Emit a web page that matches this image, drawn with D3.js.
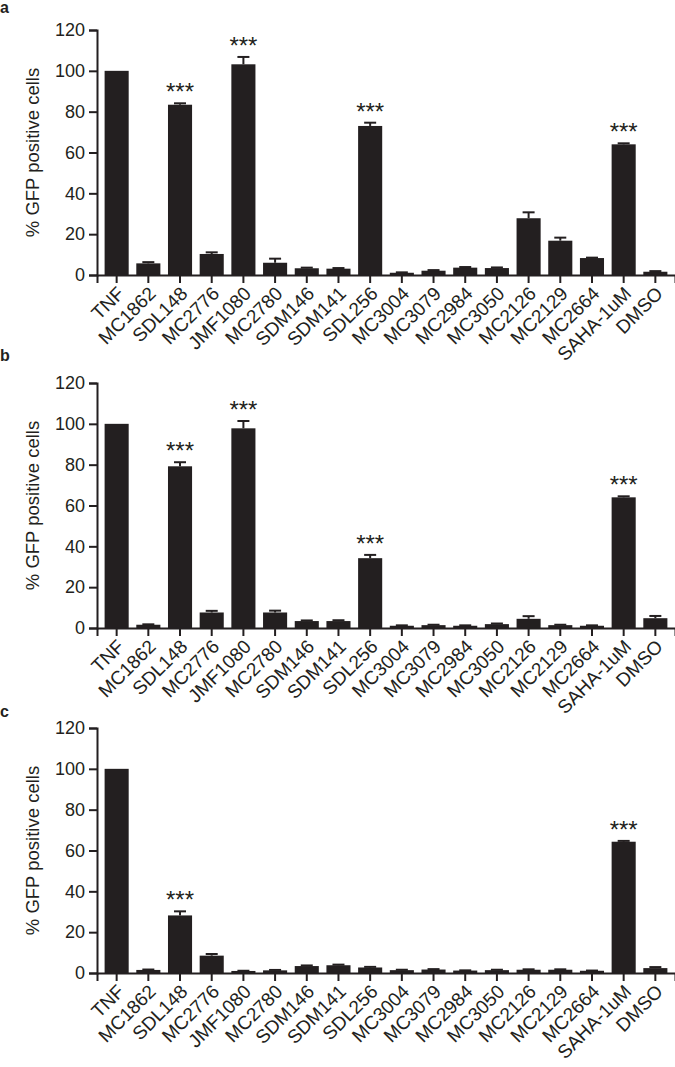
<!DOCTYPE html>
<html>
<head>
<meta charset="utf-8">
<script src="https://cdn.jsdelivr.net/npm/d3@7"></script>
<style>
  body { margin: 0; background: #fff; }
  text { font-family: "Liberation Sans", Arial, Helvetica, sans-serif; fill: #231f20; }
  .axis path, .axis line { stroke: #231f20; stroke-width: 2px; }
  .axis text { font-size: 18px; fill: #231f20; }
  .xaxis text { font-size: 19px; }
</style>
</head>
<body>
<div id="chart"></div>
<script>
// categories (compounds)
var categories = ["TNF", "MC1862", "SDL148", "MC2776", "JMF1080", "MC2780", "SDM146", "SDM141",
    "SDL256", "MC3004", "MC3079", "MC2984", "MC3050", "MC2126", "MC2129", "MC2664", "SAHA-1uM", "DMSO"];

// y ticks
var yTicks = [0, 20, 40, 60, 80, 100, 120];

// panel a
var valuesA = [100, 5.7, 83.4, 10.3, 103.2, 6.0, 3.3, 3.1, 73.0, 1.1, 2.1, 3.6, 3.4, 27.8, 16.8, 8.3, 64.0, 1.6];
var errA    = [0, 0.6, 0.7, 0.8, 3.6, 2.0, 0.3, 0.3, 1.6, 0.2, 0.3, 0.3, 0.3, 2.9, 1.5, 0.2, 0.5, 0.3];
var sigA    = ["SDL148", "JMF1080", "SDL256", "SAHA-1uM"];

// panel b
var valuesB = [100, 1.6, 79.2, 7.6, 97.8, 7.6, 3.4, 3.4, 34.2, 1.1, 1.4, 1.1, 1.9, 4.5, 1.4, 1.1, 64.0, 4.8];
var errB    = [0, 0.2, 2.0, 0.8, 3.6, 0.9, 0.3, 0.4, 1.6, 0.2, 0.2, 0.2, 0.3, 1.3, 0.2, 0.2, 0.5, 1.1];
var sigB    = ["SDL148", "JMF1080", "SDL256", "SAHA-1uM"];

// panel c
var valuesC = [100, 1.5, 28.2, 8.5, 1.0, 1.3, 3.4, 3.8, 2.7, 1.4, 1.7, 1.2, 1.4, 1.6, 1.6, 1.1, 64.3, 2.4];
var errC    = [0, 0.2, 2.0, 0.8, 0.1, 0.2, 0.3, 0.3, 0.3, 0.2, 0.2, 0.1, 0.2, 0.2, 0.2, 0.1, 0.4, 0.5];
var sigC    = ["SDL148", "SAHA-1uM"];

var yLabel = "% GFP positive cells";

// layout
var W = 675, H = 1067;
var plotLeft = 97, plotRight = 675, plotH = 245;
var barColor = "#231f20";

var panels = [
    { letter: "a", top: 30,  letterY: 13,  values: valuesA, err: errA, sig: sigA },
    { letter: "b", top: 383, letterY: 361, values: valuesB, err: errB, sig: sigB },
    { letter: "c", top: 728, letterY: 717, values: valuesC, err: errC, sig: sigC }
];

var svg = d3.select("#chart")
    .append("svg")
    .attr("width", W)
    .attr("height", H);

var x = d3.scaleBand()
    .domain(categories)
    .range([plotLeft, plotRight])
    .paddingInner(0.24)
    .paddingOuter(0.24);

var y = d3.scaleLinear()
    .domain([0, 120])
    .range([plotH, 0]);

panels.forEach(function (p) {
    var data = categories.map(function (c, i) {
        return { name: c, value: p.values[i], err: p.err[i] };
    });

    // panel letter
    svg.append("text")
        .attr("x", 0)
        .attr("y", p.letterY)
        .style("font-size", "16px")
        .style("font-weight", "bold")
        .text(p.letter);

    var g = svg.append("g")
        .attr("transform", "translate(0," + p.top + ")");

    // bars
    g.selectAll(".bar")
        .data(data)
        .enter()
        .append("rect")
        .attr("class", "bar")
        .attr("x", function (d) { return x(d.name); })
        .attr("y", function (d) { return y(d.value); })
        .attr("width", x.bandwidth())
        .attr("height", function (d) { return plotH - y(d.value); })
        .style("fill", barColor);

    // error bars (upper only)
    var eb = g.selectAll(".err")
        .data(data.filter(function (d) { return d.err > 0; }))
        .enter()
        .append("g")
        .attr("class", "err");
    eb.append("line")
        .attr("x1", function (d) { return x(d.name) + x.bandwidth() / 2; })
        .attr("x2", function (d) { return x(d.name) + x.bandwidth() / 2; })
        .attr("y1", function (d) { return y(d.value); })
        .attr("y2", function (d) { return y(d.value + d.err); })
        .style("stroke", barColor)
        .style("stroke-width", 2);
    eb.append("line")
        .attr("x1", function (d) { return x(d.name) + x.bandwidth() / 2 - 6; })
        .attr("x2", function (d) { return x(d.name) + x.bandwidth() / 2 + 6; })
        .attr("y1", function (d) { return y(d.value + d.err); })
        .attr("y2", function (d) { return y(d.value + d.err); })
        .style("stroke", barColor)
        .style("stroke-width", 2);

    // significance stars
    g.selectAll(".star")
        .data(data.filter(function (d) { return p.sig.indexOf(d.name) >= 0; }))
        .enter()
        .append("text")
        .attr("class", "star")
        .attr("x", function (d) { return x(d.name) + x.bandwidth() / 2; })
        .attr("y", function (d) { return y(d.value + d.err) - 3; })
        .style("text-anchor", "middle")
        .style("font-size", "24px")
        .text("***");

    // x axis
    var xAxis = g.append("g")
        .attr("class", "axis xaxis")
        .attr("transform", "translate(0," + plotH + ")")
        .call(d3.axisBottom(x).tickSizeOuter(0).tickSize(8));
    xAxis.selectAll(".tick text")
        .attr("y", null)
        .attr("dy", "0.35em")
        .attr("transform", "translate(4,15) rotate(-45)")
        .style("text-anchor", "end");

    // y axis
    g.append("g")
        .attr("class", "axis")
        .attr("transform", "translate(" + plotLeft + ",0)")
        .call(d3.axisLeft(y).tickValues(yTicks).tickSizeOuter(0).tickSize(8).tickPadding(4));

    // y label
    g.append("text")
        .attr("transform", "translate(33," + (plotH / 2) + ") rotate(-90)")
        .attr("dy", "0.35em")
        .style("text-anchor", "middle")
        .style("font-size", "18.5px")
        .text(yLabel);
});
</script>
</body>
</html>
